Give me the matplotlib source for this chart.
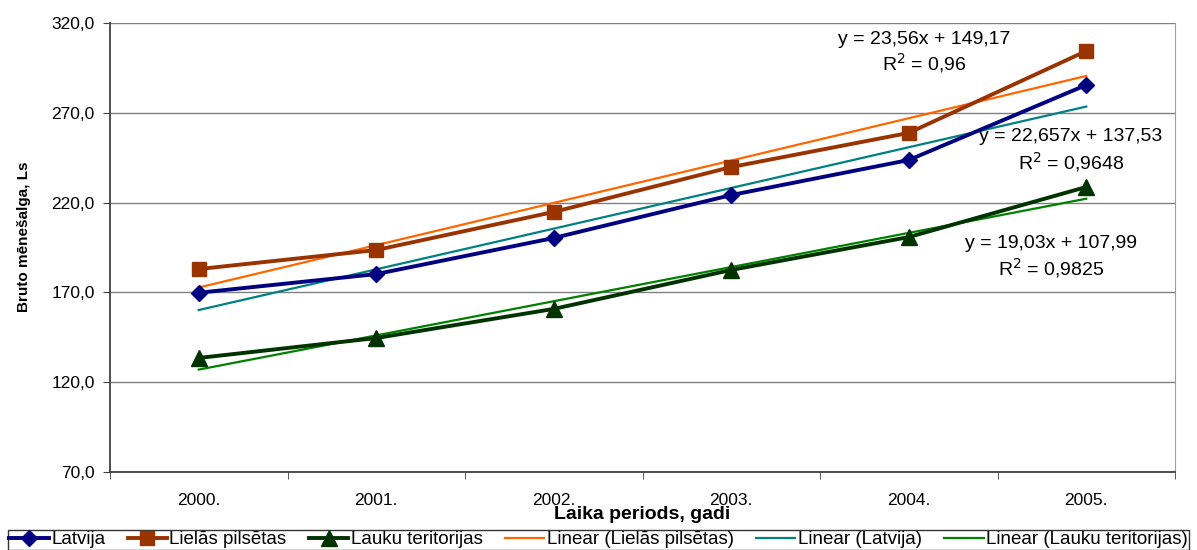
import matplotlib
matplotlib.use("Agg")
import matplotlib.pyplot as plt
import numpy as np

plt.rcParams['font.family'] = ['Liberation Sans', 'DejaVu Sans']

years = ["2000.", "2001.", "2002.", "2003.", "2004.", "2005."]
latvija = [169.8, 180.2, 200.3, 224.2, 243.7, 285.5]
lielas_pilsetas = [183.0, 193.6, 214.8, 239.8, 258.8, 304.4]
lauku_teritorijas = [133.5, 144.6, 160.8, 182.5, 200.8, 228.7]

# trend line coefficients (slope, intercept) for x = 1..6
trend_lielas = (23.56, 149.17)
trend_latvija = (22.657, 137.53)
trend_lauku = (19.03, 107.99)

W, H = 1197, 550
fig = plt.figure(figsize=(W / 100, H / 100), dpi=100)
ax = fig.add_axes([110 / W, 1 - 472 / H, (1175 - 110) / W, (472 - 23) / H])

x = np.arange(len(years))
xn = x + 1

l1, = ax.plot(x, latvija, color="#000080", lw=2.8, marker="D", ms=8.5,
              label="Latvija", zorder=5)
l2, = ax.plot(x, lielas_pilsetas, color="#993300", lw=2.8, marker="s", ms=10,
              label="Lielās pilsētas", zorder=5)
l3, = ax.plot(x, lauku_teritorijas, color="#003300", lw=2.8, marker="^", ms=12,
              label="Lauku teritorijas", zorder=5)

t1, = ax.plot(x, trend_lielas[0] * xn + trend_lielas[1], color="#FF6600", lw=1.6,
              label="Linear (Lielās pilsētas)", zorder=4)
t2, = ax.plot(x, trend_latvija[0] * xn + trend_latvija[1], color="#008080", lw=1.6,
              label="Linear (Latvija)", zorder=4)
t3, = ax.plot(x, trend_lauku[0] * xn + trend_lauku[1], color="#008000", lw=1.6,
              label="Linear (Lauku teritorijas)", zorder=4)

ax.set_xlim(-0.5, 5.5)
ax.set_ylim(70, 320)
yt = np.arange(70, 321, 50)
ax.set_yticks(yt)
ax.set_yticklabels([f"{v:.1f}".replace(".", ",") for v in yt], fontsize=12.5)
ax.yaxis.grid(True, color="#808080", lw=1)
ax.set_axisbelow(True)

ax.set_xticks(x)
ax.set_xticklabels(years, fontsize=12.5)
ax.tick_params(axis="x", length=0, pad=15)
ax.set_xticks(np.arange(-0.5, 6.0, 1.0), minor=True)
ax.tick_params(axis="x", which="minor", length=5, color="#404040")
ax.tick_params(axis="y", length=5, color="#404040", pad=6)

for s in ["left", "bottom"]:
    ax.spines[s].set_color("#404040")
    ax.spines[s].set_linewidth(1.3)
ax.spines["right"].set_color("#A0A0A0")
ax.spines["top"].set_visible(False)

ax.set_xlabel("Laika periods, gadi", fontsize=14, fontweight="bold", labelpad=-1)
ax.set_ylabel("Bruto mēnešalga, Ls", fontsize=11, fontweight="bold")
ax.yaxis.set_label_coords((31 - 110) / 1065, (472 - 237) / 449)


def eq_label(xc, y1, y2, slope, icpt, r2):
    s = f"y = {slope}x + {icpt}".replace(".", ",")
    fig.text(xc / W, 1 - y1 / H, s, ha="center", va="center", fontsize=14)
    fig.text(xc / W, 1 - y2 / H, "R$^2$ = " + r2, ha="center", va="center", fontsize=14)


eq_label(924, 39, 63, "23.56", "149.17", "0,96")
eq_label(1071, 137, 162, "22.657", "137.53", "0,9648")
eq_label(1051, 243, 268, "19.03", "107.99", "0,9825")

leg = fig.legend(handles=[l1, l2, l3, t1, t2, t3], loc="lower center",
                 bbox_to_anchor=(0.5, 0.0), ncol=6, fontsize=13.5, frameon=True,
                 fancybox=False, edgecolor="black", handlelength=2.1,
                 handletextpad=0.12, columnspacing=1.2, borderpad=0.08,
                 borderaxespad=0.0, labelspacing=0.0)
leg.get_frame().set_linewidth(1.0)

fig.savefig("out.png", dpi=100)
